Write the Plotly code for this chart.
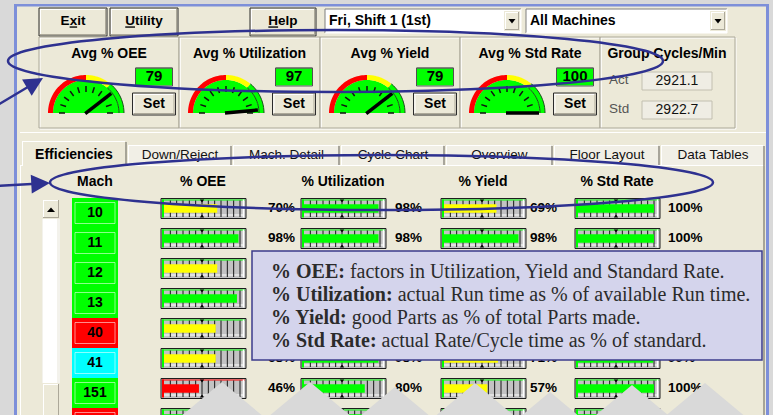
import math
import plotly.graph_objects as go

W, H = 773, 415

# ---------------- data ----------------
gauge_titles = ["Avg % OEE", "Avg % Utilization", "Avg % Yield", "Avg % Std Rate"]
gauge_values = [79, 97, 79, 100]
cycle_labels = ["Act", "Std"]
cycle_values = [2921.1, 2922.7]
machines = ["10", "11", "12", "13", "40", "41", "151", "152"]
mach_status = ["run", "run", "run", "run", "down", "idle", "run", "down"]
oee = [70, 98, 70, 96, 68, 68, 46, 75]
util = [98, 98, 97, 98, 95, 98, 80, 96]
yld = [69, 98, 72, 98, 72, 71, 57, 90]
std_rate = [100, 100, 100, 100, 99, 99, 100, 100]
metric_names = ["% OEE", "% Utilization", "% Yield", "% Std Rate"]
tab_names = ["Efficiencies", "Down/Reject", "Mach. Detail", "Cycle Chart",
             "Overview", "Floor Layout", "Data Tables"]
shift_choice = "Fri, Shift 1 (1st)"
machine_choice = "All Machines"
notes_terms = ["% OEE:", "% Utilization:", "% Yield:", "% Std Rate:"]
notes_text = ["factors in Utilization, Yield and Standard Rate.",
              "actual Run time as % of available Run time.",
              "good Parts as % of total Parts made.",
              "actual Rate/Cycle time as % of standard."]

# ---------------- styles ----------------
UI = "Liberation Sans"
SERIF = "Liberation Serif"
BEIGE = "#ece9d8"
OUTSIDE = "#d9d9d9"
WINBLUE = "#7d8fd9"
NAVY = "#2e3190"
GREEN, YELLOW, RED, CYAN = "#00ff00", "#ffff00", "#ff0000", "#00ffff"
STATUS = {"run": GREEN, "down": RED, "idle": CYAN}


def level_color(v):
    return RED if v < 50 else (YELLOW if v < 75 else GREEN)


shapes = []


def rect(x0, y0, x1, y1, fill=None, line=None, lw=1, layer="below"):
    shapes.append(dict(type="rect", xref="paper", yref="paper",
                       x0=x0 / W, x1=x1 / W, y0=1 - y1 / H, y1=1 - y0 / H,
                       fillcolor=fill or "rgba(0,0,0,0)",
                       line=dict(color=line or "rgba(0,0,0,0)", width=lw if line else 0),
                       layer=layer))


def seg(x0, y0, x1, y1, color, lw=1, layer="below"):
    shapes.append(dict(type="line", xref="paper", yref="paper",
                       x0=x0 / W, y0=1 - y0 / H, x1=x1 / W, y1=1 - y1 / H,
                       line=dict(color=color, width=lw), layer=layer))


def poly(pts, fill=None, line=None, lw=0, layer="below", closed=True):
    d = "M" + "L".join(f"{x / W:.5f},{1 - y / H:.5f}" for x, y in pts) + ("Z" if closed else "")
    shapes.append(dict(type="path", xref="paper", yref="paper", path=d,
                       fillcolor=fill or "rgba(0,0,0,0)",
                       line=dict(color=line or "rgba(0,0,0,0)", width=lw), layer=layer))


def arc(cx, cy, r, a0, a1, n=36):
    return [(cx + r * math.cos(math.radians(a0 + (a1 - a0) * k / n)),
             cy - r * math.sin(math.radians(a0 + (a1 - a0) * k / n))) for k in range(n + 1)]


def raised(x0, y0, x1, y1, frame=True):
    rect(x0, y0, x1, y1, fill=BEIGE, line="#2b2b2b" if frame else None)
    seg(x0 + 1, y0 + 1.5, x1 - 1, y0 + 1.5, "white")
    seg(x0 + 1.5, y0 + 1, x0 + 1.5, y1 - 1, "white")
    seg(x0 + 1, y1 - 1.5, x1 - 1, y1 - 1.5, "#aca899")
    seg(x1 - 1.5, y0 + 1, x1 - 1.5, y1 - 1, "#aca899")


def sunken(x0, y0, x1, y1, fill):
    rect(x0, y0, x1, y1, fill=fill)
    seg(x0, y0, x1, y0, "#7f7f7f")
    seg(x0, y0, x0, y1, "#7f7f7f")
    seg(x0, y1, x1, y1, "white")
    seg(x1, y0, x1, y1, "white")


def etched(x0, y0, x1, y1):
    rect(x0 + 1, y0 + 1, x1 + 1, y1 + 1, line="white")
    rect(x0, y0, x1, y1, line="#aca899")


texts = {}


def T(x, y, s, size=13.5, color="black", bold=False, anchor="middle center"):
    d = texts.setdefault(anchor, dict(x=[], y=[], t=[], s=[], c=[]))
    d["x"].append(x)
    d["y"].append(y)
    d["t"].append(f"<b>{s}</b>" if bold else s)
    d["s"].append(size)
    d["c"].append(color)


# ---------------- window ----------------
rect(14, 4, 769, 420, fill=BEIGE)
rect(14, 4, 17, 420, fill=WINBLUE)
rect(14, 4, 769, 6.5, fill=WINBLUE)
rect(766, 4, 769, 420, fill=WINBLUE)

# top buttons
for (x0, x1, lab) in [(39, 107, "E<u>x</u>it"), (110, 178, "<u>U</u>tility"), (250, 316, "<u>H</u>elp")]:
    raised(x0, 8, x1, 36)
    T((x0 + x1) / 2, 22, lab, 13.5, bold=True)

# dropdowns
for (x0, x1, lab) in [(325, 521, shift_choice), (526, 727, machine_choice)]:
    sunken(x0, 9, x1, 33, "white")
    raised(x1 - 17, 11, x1 - 1, 31, frame=False)
    ax = x1 - 9
    poly([(ax - 3.5, 19), (ax + 3.5, 19), (ax, 23.5)], fill="black")
    T(x0 + 4, 21, lab, 14, bold=True, anchor="middle right")

# gauge panels
panel_x = [39, 179, 320, 460, 600, 735]
for k in range(5):
    etched(panel_x[k], 37, panel_x[k + 1], 128)

for g in range(4):
    pcx = (panel_x[g] + panel_x[g + 1]) / 2
    T(pcx, 54, gauge_titles[g], 14, bold=True)
    cx, cy = panel_x[g] + 47, 113
    # inner fill
    poly(arc(cx, cy, 33, 0, 180), fill=GREEN)
    # coloured ring
    for (a0, a1, col) in [(180, 90, RED), (90, 50, YELLOW), (50, 0, GREEN)]:
        poly(arc(cx, cy, 38, a0, a1) + arc(cx, cy, 33, a1, a0), fill=col)
    poly(arc(cx, cy, 33, 0, 50, 12), line="#1b4d1b", lw=1, closed=False)
    poly(arc(cx, cy, 38, 0, 50, 12), line="#1b4d1b", lw=1, closed=False)
    # ticks
    for k in range(11):
        a = math.radians(18 * k)
        seg(cx + 21 * math.cos(a), cy - 21 * math.sin(a),
            cx + 27 * math.cos(a), cy - 27 * math.sin(a), "#111111", 1.5)
    # needle
    v = gauge_values[g]
    a = math.radians(180 * (1 - v / 100))
    seg(cx - 1 * math.cos(a), cy + 1 * math.sin(a),
        cx + 32 * math.cos(a), cy - 32 * math.sin(a), "black", 3.5)
    # value box and Set button
    bx = cx + 68
    sunken(bx - 18.5, 68, bx + 18.5, 86, GREEN)
    rect(bx - 18.5, 68, bx + 18.5, 86, line="#505050", lw=1)
    T(bx, 77.5, str(v), 15, bold=True)
    raised(bx - 21.5, 93, bx + 21.5, 115)
    T(bx, 104, "Set", 14, bold=True)

# group cycles panel
T(667, 54, "Group Cycles/Min", 14, bold=True)
for k in range(2):
    yc = 81 + 29 * k
    rect(642, yc - 9, 712, yc + 9, fill="#efede4", line="#c2bfb0")
    T(609, yc, cycle_labels[k], 13.5, color="#555555", anchor="middle right")
    T(677, yc, f"{cycle_values[k]:.1f}", 14, color="#111111")

# ---------------- tab control ----------------
seg(20, 132.5, 766, 132.5, "white")
rect(20, 165, 765, 420, fill=BEIGE)
seg(20, 165.5, 765, 165.5, "white")
seg(20.5, 165, 20.5, 420, "white")
seg(764, 165, 764, 420, "#8f8d82", 1.5)
tab_x = [22, 127, 232, 340, 445, 553, 660, 765]
for k in range(1, 7):
    x0, x1 = tab_x[k] + 1, tab_x[k + 1]
    rect(x0, 145, x1, 165, fill="#f1efe6")
    seg(x0, 145.5, x1 - 2, 145.5, "white")
    seg(x0 + 0.5, 146, x0 + 0.5, 165, "white")
    seg(x1 - 1, 146, x1 - 1, 165, "#8f8d82", 1.5)
    T((x0 + x1) / 2, 156, tab_names[k], 13.5, color="#111111")
rect(22, 141, 127, 167, fill=BEIGE)
seg(22, 141.5, 125, 141.5, "white")
seg(22.5, 142, 22.5, 166, "white")
seg(126, 142, 126, 166, "#8f8d82", 1.5)
T(74, 155, tab_names[0], 14, bold=True)

# column headers
col_left = [161, 301, 441, 575]
pct_x = [268, 395, 530, 668]
T(95, 182, "Mach", 14, bold=True)
for c in range(4):
    T(col_left[c] + 42, 182, metric_names[c], 14, bold=True)

# scrollbar
rect(42, 199, 60, 420, fill="#f3f2ec")
rect(43, 219, 57, 383, fill="white")
raised(42, 199, 60, 219, frame=False)
poly([(47, 212), (55, 212), (51, 207.5)], fill="black")
raised(42, 383, 60, 422, frame=False)

# row layout
ROW0_BOX, ROW0_CELL, PITCH = 208.5, 213.0, 30.0
n = len(machines)
metrics = [oee, util, yld, std_rate]
BAR_LEN = 76
for i in range(n):
    top = ROW0_BOX + PITCH * i - 10
    bot = top + 20
    for c in range(4):
        L = col_left[c]
        R = L + 85
        v = metrics[c][i]
        fc = RED if v < 50 else GREEN
        rect(L, top, R, bot, fill="#c3c3c3", line="#1e1e1e")
        rect(L + 1, top + 1, L + 3, bot - 1, fill=fc)
        seg(L + 1, top + 1.5, R - 1, top + 1.5, fc, 1.2)
        seg(R - 2.5, top + 1, R - 2.5, bot - 1, "white", 1.5)
        seg(L + 3, bot - 3.5, R - 3, bot - 3.5, "white", 1)
        for k in range(1, 13):
            x = L + 3 + k * BAR_LEN / 12
            seg(x, top + 2, x, bot - 1.5, "#161616", 1)
        xm = L + 3 + BAR_LEN / 2
        poly([(xm - 2.2, top + 1), (xm + 2.2, top + 1), (xm, top + 4)], fill="black")
        poly([(xm - 2.2, bot - 1), (xm + 2.2, bot - 1), (xm, bot - 4)], fill="black")

# ---------------- traces ----------------
fig = go.Figure()

fig.add_trace(go.Bar(x=[46] * n, base=[72] * n, y=machines, orientation="h",
                     xaxis="x", yaxis="y3", width=1.0,
                     marker=dict(color=[STATUS[s] for s in mach_status], line=dict(width=0)),
                     hoverinfo="skip", showlegend=False))
fig.add_trace(go.Scatter(x=[95] * n, y=machines, mode="text",
                         text=[f"<b>{m}</b>" for m in machines], textposition="middle center",
                         textfont=dict(family=UI, size=14, color="black"),
                         xaxis="x", yaxis="y3", cliponaxis=False, hoverinfo="skip", showlegend=False))

for c, vals in enumerate(metrics):
    fig.add_trace(go.Bar(x=vals, y=machines, orientation="h", xaxis=f"x{c + 2}", yaxis="y2",
                         width=0.28, marker=dict(color=[level_color(v) for v in vals], line=dict(width=0)),
                         hoverinfo="skip", showlegend=False))
    fig.add_trace(go.Scatter(x=[pct_x[c]] * n, y=machines, mode="text",
                             text=[f"<b>{v}%</b>" for v in vals], textposition="middle right",
                             textfont=dict(family=UI, size=13.5, color="black"),
                             xaxis="x", yaxis="y2", cliponaxis=False, hoverinfo="skip", showlegend=False))

for anchor, d in texts.items():
    fig.add_trace(go.Scatter(x=d["x"], y=d["y"], mode="text", text=d["t"], textposition=anchor,
                             textfont=dict(family=UI, size=d["s"], color=d["c"]),
                             xaxis="x", yaxis="y", cliponaxis=False, hoverinfo="skip", showlegend=False))

# ---------------- overlays (above) ----------------
for i in range(n):
    yc = ROW0_CELL + PITCH * i
    rect(75, yc - 10.5, 115, yc + 10.5, line="rgba(255,255,255,0.55)", lw=1, layer="above")

rect(252, 251, 762, 360, fill="#d4d4ec", line="#3b3b8c", lw=1.5, layer="above")

for (ax_, ay_) in [(222, 382), (310, 382), (395, 387), (475, 383), (550, 392), (632, 385), (705, 383)]:
    poly([(ax_, ay_), (ax_ + 1.2 * (420 - ay_), 420), (ax_ - 1.2 * (420 - ay_), 420)],
         fill="#d9d9d9", layer="above")

for (x0, y0, x1, y1) in [(8, 30, 663, 92), (50, 155, 713, 210)]:
    shapes.append(dict(type="circle", xref="paper", yref="paper",
                       x0=x0 / W, x1=x1 / W, y0=1 - y1 / H, y1=1 - y0 / H,
                       line=dict(color=NAVY, width=2.5), fillcolor="rgba(0,0,0,0)", layer="above"))

annotations = []
for (hx, hy, tx, ty) in [(43, 78, -4, 106), (50, 183, -4, 186)]:
    annotations.append(dict(x=hx, y=hy, ax=tx, ay=ty, xref="x", yref="y", axref="x", ayref="y",
                            text="", showarrow=True, arrowhead=2, arrowsize=1.5, arrowwidth=2.5,
                            arrowcolor=NAVY))
for k in range(4):
    annotations.append(dict(x=269, y=271 + 23.2 * k, xref="x", yref="y", xanchor="left", yanchor="middle",
                            showarrow=False, text=f"<b>{notes_terms[k]}</b> {notes_text[k]}",
                            font=dict(family=SERIF, size=20, color="#2b2b2b")))

cat_kw = dict(type="category", categoryorder="array", categoryarray=machines, anchor="x",
              visible=False, domain=[0, 1], fixedrange=True)
b2 = -ROW0_BOX / PITCH
b3 = -ROW0_CELL / PITCH
layout = dict(
    width=W, height=H, autosize=False,
    margin=dict(l=0, r=0, t=0, b=0, pad=0),
    paper_bgcolor=OUTSIDE, plot_bgcolor="rgba(0,0,0,0)",
    showlegend=False, hovermode=False,
    xaxis=dict(range=[0, W], domain=[0, 1], visible=False, fixedrange=True, anchor="y"),
    yaxis=dict(range=[H, 0], domain=[0, 1], visible=False, fixedrange=True, anchor="x"),
    yaxis2=dict(range=[b2 + H / PITCH, b2], **cat_kw),
    yaxis3=dict(range=[b3 + H / PITCH, b3], **cat_kw),
    shapes=shapes, annotations=annotations,
)
for c in range(4):
    L = col_left[c]
    layout[f"xaxis{c + 2}"] = dict(domain=[(L + 3) / W, (L + 3 + BAR_LEN) / W], range=[0, 100],
                                   anchor="y2", visible=False, fixedrange=True)
fig.update_layout(**layout)
fig.write_html("out.html", config={"displayModeBar": False},
               post_script="document.body.style.margin='0';document.body.style.overflow='hidden';")
